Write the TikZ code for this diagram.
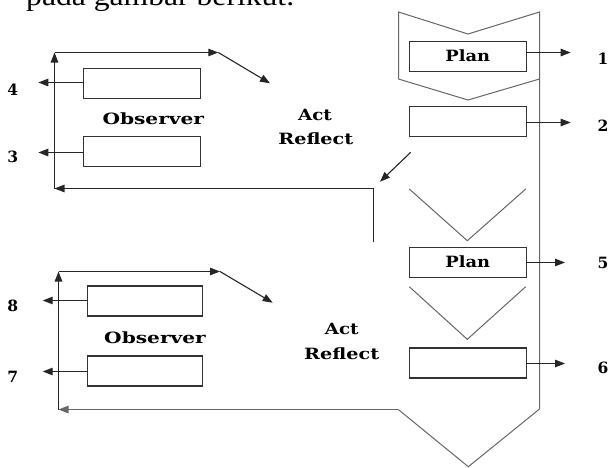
\documentclass[tikz,border=0pt]{standalone}
\usepackage{fontspec}
\newfontfamily\lblfont{DejaVu Serif}
\newfontfamily\toptext{Liberation Serif}
\usetikzlibrary{arrows.meta}
\newcommand\sx[2][1.2]{\scalebox{#1}[1]{#2}}
\tikzset{
  lbl/.style={font={\lblfont\bfseries\fontsize{15.5}{17}\selectfont}, inner sep=0pt},
  num/.style={font={\lblfont\bfseries\fontsize{15.5}{17}\selectfont}, inner sep=0pt},
  box/.style={draw=black!80, line width=1.1pt, minimum width=117pt, minimum height=30pt,
              inner sep=0pt, outer sep=0pt, lbl},
  arr/.style={-{Triangle[length=10pt,width=7.5pt]}, line width=1.1pt, draw=black!85},
  chev/.style={draw=black!60, line width=1pt},
}
\begin{document}
\begin{tikzpicture}[x=1pt,y=-1pt]
\useasboundingbox (0,0) rectangle (609,467);
\clip (0,0) rectangle (609,467);

% partial heading text cut off at the top
\node[anchor=base west, inner sep=0pt, font={\toptext\fontsize{28}{30}\selectfont}] (hdr) at (26,5.7)
  {\scalebox{1.13}[1]{pada gambar berikut.}};

% right-hand outline
\coordinate (o1) at (398.5,79);
\coordinate (o2) at (398.5,12);
\coordinate (o3) at (468,34);
\coordinate (o4) at (539.5,12);
\coordinate (o5) at (539.5,409);
\coordinate (o6) at (468.3,466.7);
\coordinate (o7) at (398.3,409.5);
\coordinate (o8) at (468,100);
\coordinate (o9) at (539.5,79);
\draw[chev] (o1) -- (o2) -- (o3) -- (o4) -- (o5) -- (o6) -- (o7);
\draw[chev] (o1) -- (o8) -- (o9);

% middle chevrons
\coordinate (v1a) at (409.3,189);
\coordinate (v1b) at (467.3,240.7);
\coordinate (v1c) at (525.7,189);
\coordinate (v2a) at (409.3,286.7);
\coordinate (v2b) at (467.3,339.3);
\coordinate (v2c) at (525.7,286.7);
\draw[chev] (v1a) -- (v1b) -- (v1c);
\draw[chev] (v2a) -- (v2b) -- (v2c);

% right boxes
\node[box] (p1) at (467.7,56.2) {\sx[1.15]{Plan}};
\node[box] (b2) at (467.7,121.7) {};
\node[box] (p5) at (467.7,262.2) {\sx[1.15]{Plan}};
\node[box] (b6) at (467.7,363) {};

% left boxes
\node[box, minimum width=117.4pt] (b4) at (142,83.3) {};
\node[box, minimum width=117.4pt] (b3) at (142,151.7) {};
\node[box, minimum width=115pt] (b8) at (144.8,301) {};
\node[box, minimum width=115pt] (b7) at (144.8,371) {};

% labels
\node[lbl] (obs1) at (153.3,118.3) {\sx[1.3]{Observer}};
\node[lbl] (act1) at (315,115) {\sx[1.18]{Act}};
\node[lbl] (ref1) at (315.8,138.3) {\sx[1.24]{Reflect}};
\node[lbl] (obs2) at (155,337.3) {\sx[1.3]{Observer}};
\node[lbl] (act2) at (341.7,329.3) {\sx[1.18]{Act}};
\node[lbl] (ref2) at (341.7,353.3) {\sx[1.24]{Reflect}};

% numbers
\node[num] (n1) at (603,58.4) {1};
\node[num] (n2) at (603,126) {2};
\node[num] (n5) at (603,263) {5};
\node[num] (n6) at (603,368) {6};
\node[num] (n4) at (12.8,89.7) {4};
\node[num] (n3) at (12.8,156.7) {3};
\node[num] (n8) at (12.8,306) {8};
\node[num] (n7) at (12.8,376.7) {7};

% arrow ends
\coordinate (e1) at (570.7,52.5);
\coordinate (e2) at (570.7,122.5);
\coordinate (e5) at (565,262.5);
\coordinate (e6) at (565,363.5);
\coordinate (e4) at (38.3,82.5);
\coordinate (e3) at (38.3,152.5);
\coordinate (e8) at (42.7,300.5);
\coordinate (e7) at (42.7,371.5);
\draw[arr] (p1.east |- e1) -- (e1);
\draw[arr] (b2.east |- e2) -- (e2);
\draw[arr] (p5.east |- e5) -- (e5);
\draw[arr] (b6.east |- e6) -- (e6);
\draw[arr] (b4.west |- e4) -- (e4);
\draw[arr] (b3.west |- e3) -- (e3);
\draw[arr] (b8.west |- e8) -- (e8);
\draw[arr] (b7.west |- e7) -- (e7);

% upper loop
\coordinate (f1b) at (54.5,188.5);
\coordinate (f1t) at (54.5,52.5);
\coordinate (f1r) at (218.3,52.5);
\coordinate (f1d) at (270,83.3);
\draw[arr] (f1b) -- (f1t);
\draw[arr] (f1t) -- (f1r);
\draw[arr] (f1r) -- (f1d);
\coordinate (r1s) at (373.5,241.7);
\coordinate (r1c) at (373.5,188.5);
\draw[arr] (r1s) -- (r1c) -- (f1b);
\coordinate (d1s) at (410.7,152.3);
\coordinate (d1e) at (380,181.7);
\draw[arr] (d1s) -- (d1e);

% lower loop
\coordinate (f2b) at (58.5,409.5);
\coordinate (f2t) at (58.5,271.5);
\coordinate (f2r) at (220,271.5);
\coordinate (f2d) at (272.7,302.7);
\draw[arr] (f2b) -- (f2t);
\draw[arr] (f2t) -- (f2r);
\draw[arr] (f2r) -- (f2d);
\draw[arr, draw=black!60] (o7) -- (f2b);
\end{tikzpicture}
\end{document}
